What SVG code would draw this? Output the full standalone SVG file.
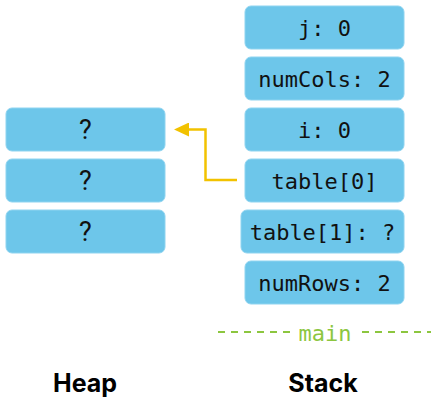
<svg xmlns="http://www.w3.org/2000/svg" width="431" height="397" viewBox="0 0 431 397">
<style>
.box{fill:#6dc6ea;stroke:#8fd4f0;stroke-width:1}
.mono{font-family:"DejaVu Sans Mono","Liberation Mono",monospace;font-size:22px;fill:#111;text-anchor:middle}
.q{font-family:Roboto,"Liberation Sans",sans-serif;font-size:27px;fill:#111;text-anchor:middle}
.lbl{font-family:Inter,Roboto,"Liberation Sans",sans-serif;font-size:25px;font-weight:700;fill:#000;text-anchor:middle}
.conn{fill:none;stroke:#f2c200;stroke-width:2.5}
.dash{stroke:#8cc63f;stroke-width:2;stroke-dasharray:7 6}
</style>
<defs>
<marker id="ah" markerWidth="15" markerHeight="14" refX="0" refY="7" orient="auto" markerUnits="userSpaceOnUse" viewBox="0 0 15 14">
<path d="M0,0 L0,14 L15,7 z" fill="#f2c200"/>
</marker>
</defs>
<g id="heap">
<g id="heap0"><rect class="box" x="6" y="108" width="159" height="43" rx="6"/><text class="q" x="85.5" y="139">?</text></g>
<g id="heap1"><rect class="box" x="6" y="159" width="159" height="43" rx="6"/><text class="q" x="85.5" y="190">?</text></g>
<g id="heap2"><rect class="box" x="6" y="210" width="159" height="43" rx="6"/><text class="q" x="85.5" y="241">?</text></g>
</g>
<g id="stack">
<g id="s_j"><rect class="box" x="245" y="6" width="159" height="43" rx="6"/><text class="mono" x="324.5" y="36">j: 0</text></g>
<g id="s_numCols"><rect class="box" x="245" y="57" width="159" height="43" rx="6"/><text class="mono" x="324.5" y="87">numCols: 2</text></g>
<g id="s_i"><rect class="box" x="245" y="108" width="159" height="43" rx="6"/><text class="mono" x="324.5" y="138">i: 0</text></g>
<g id="s_table0"><rect class="box" x="245" y="159" width="159" height="43" rx="6"/><text class="mono" x="324.5" y="189">table[0]</text></g>
<g id="s_table1"><rect class="box" x="241" y="210" width="163" height="43" rx="6"/><text class="mono" x="322.5" y="240">table[1]: ?</text></g>
<g id="s_numRows"><rect class="box" x="245" y="261" width="159" height="43" rx="6"/><text class="mono" x="324.5" y="291">numRows: 2</text></g>
</g>
<g id="connectors">
<path class="conn" d="M237,180 H205.5 V129.5 H189" marker-end="url(#ah)"/>
</g>
<g id="frame">
<line class="dash" x1="218" y1="332" x2="292" y2="332"/>
<text x="325" y="341" style="font-family:'DejaVu Sans Mono','Liberation Mono',monospace;font-size:22px;fill:#8cc63f;text-anchor:middle">main</text>
<line class="dash" x1="362" y1="332" x2="431" y2="332"/>
</g>
<text class="lbl" x="85" y="392">Heap</text>
<text class="lbl" x="323" y="392">Stack</text>
</svg>
